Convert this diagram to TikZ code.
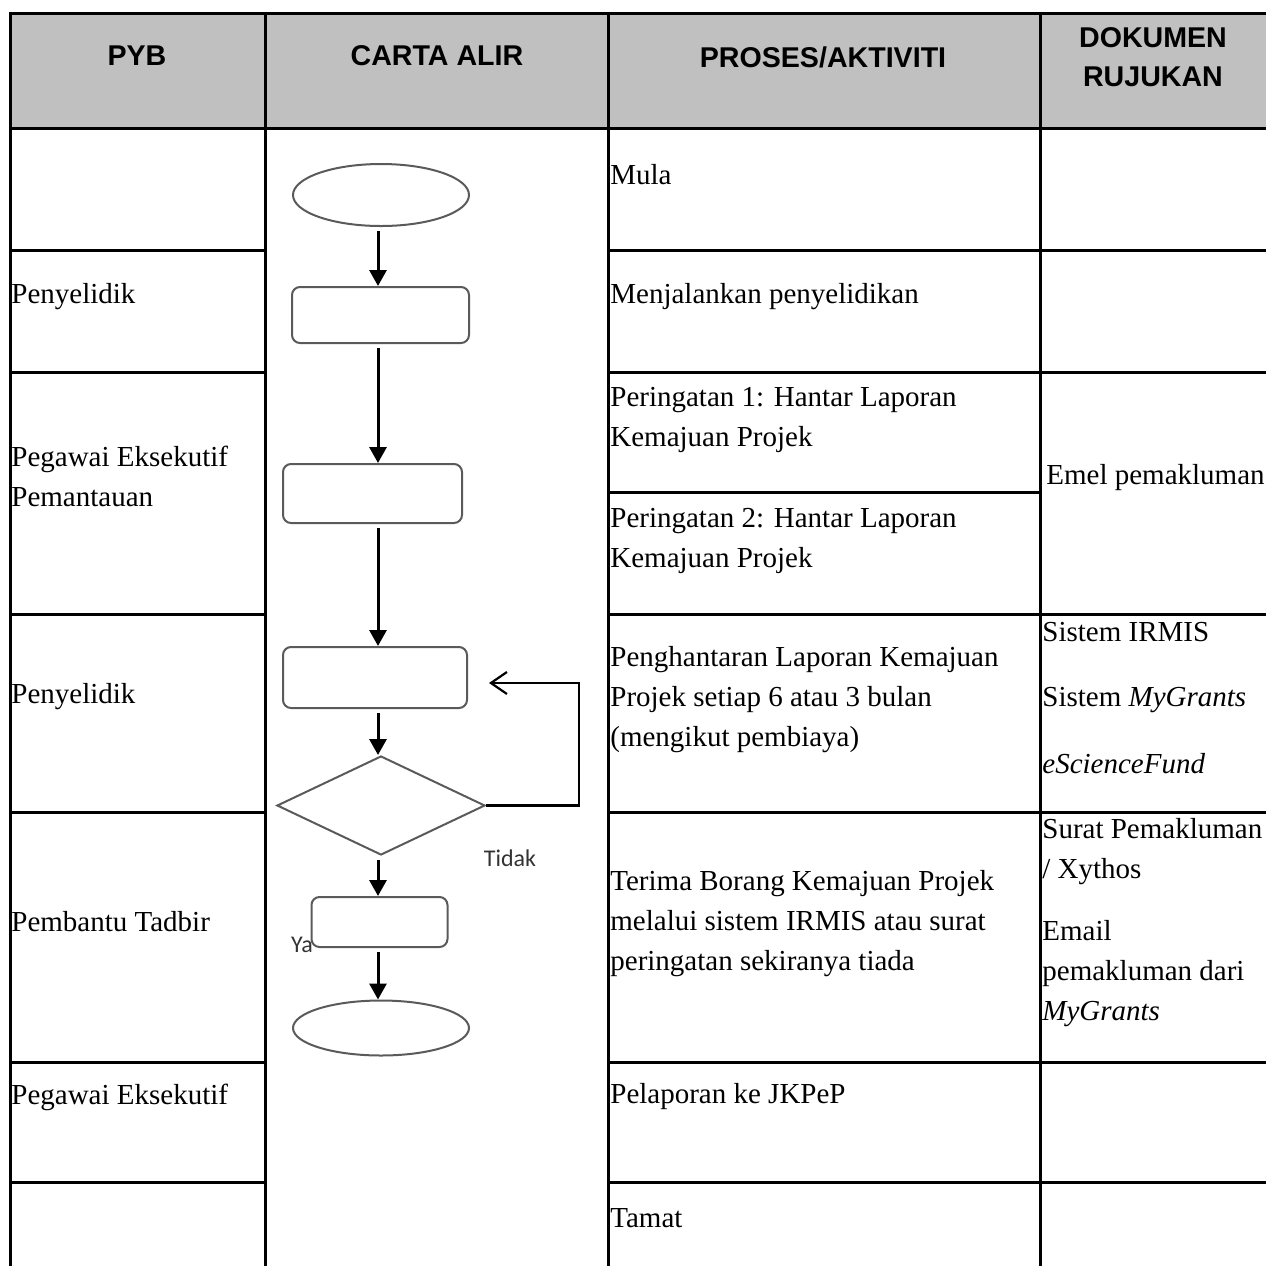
\documentclass[tikz,border=0pt]{standalone}
\usepackage{fontspec}
\setmainfont{Liberation Serif}
\setsansfont{Liberation Sans}
\newfontfamily\calibrifont{Carlito}
\usetikzlibrary{shapes.geometric,arrows.meta}
\definecolor{headgray}{HTML}{C0C0C0}
\definecolor{shapegray}{HTML}{5A5A5A}
\definecolor{labelgray}{HTML}{333333}

\begin{document}
\begin{tikzpicture}[x=0.5pt,y=-0.5pt,
    grid/.style={line width=1.5pt},
    cell/.style={anchor=west,align=left,inner sep=0pt,font=\fontsize{14.5}{20}\selectfont},
    head/.style={align=center,inner sep=0pt,font=\fontsize{14.3}{19.5}\selectfont\sffamily\bfseries},
    terminal/.style={ellipse,draw=shapegray,line width=1pt,inner sep=0pt},
    process/.style={rectangle,rounded corners=4pt,draw=shapegray,line width=1pt,inner sep=0pt},
    decision/.style={diamond,draw=shapegray,line width=1pt,inner sep=0pt},
    flow/.style={-{Triangle[width=8.5pt,length=8pt]},line width=1.5pt,shorten <=2pt},
    loopback/.style={-{Straight Barb[length=8pt,width=11pt]},line width=1.1pt},
    branch/.style={inner sep=0pt,text=labelgray,font=\fontsize{12}{14}\selectfont\calibrifont}]
  \useasboundingbox (0,0) rectangle (1266,1266);
  \clip (0,0) rectangle (1266,1266);

  % header
  \fill[headgray] (10,13) rectangle (1266,128);
  \draw[grid] (10,1266) -- (10,13) -- (1266,13);
  \draw[grid] (10,128) -- (1266,128);
  \draw[grid] (265,13) -- (265,1266);
  \draw[grid] (608,13) -- (608,1266);
  \draw[grid] (1040,13) -- (1040,1266);

  % rows, PYB column
  \draw[grid] (10,250) -- (265,250);
  \draw[grid] (10,372) -- (265,372);
  \draw[grid] (10,614) -- (265,614);
  \draw[grid] (10,812) -- (265,812);
  \draw[grid] (10,1062) -- (265,1062);
  \draw[grid] (10,1182) -- (265,1182);
  % rows, proses + dokumen
  \draw[grid] (608,250) -- (1266,250);
  \draw[grid] (608,372) -- (1266,372);
  \draw[grid] (608,492) -- (1040,492);
  \draw[grid] (608,614) -- (1266,614);
  \draw[grid] (608,812) -- (1266,812);
  \draw[grid] (608,1062) -- (1266,1062);
  \draw[grid] (608,1182) -- (1266,1182);

  \node[head] (pyb) at (137,56) {PYB};
  \node[head] (carta) at (437,56) {CARTA ALIR};
  \node[head] (proses) at (823,57) {PROSES/AKTIVITI};
  \node[head] (dokumen) at (1153,57) {DOKUMEN\\RUJUKAN};

  % PYB
  \node[cell] (pyb1) at (11,297) {Penyelidik};
  \node[cell] (pyb2) at (11,476) {Pegawai Eksekutif\\Pemantauan};
  \node[cell] (pyb3) at (11,697) {Penyelidik};
  \node[cell] (pyb4) at (11,922) {Pembantu Tadbir};
  \node[cell] (pyb5) at (11,1097) {Pegawai Eksekutif};

  % proses/aktiviti
  \node[cell] (mula) at (610,175) {Mula};
  \node[cell] (jalan) at (610,297) {Menjalankan penyelidikan};
  \node[cell] (ingat1) at (610,420) {Peringatan 1: Hantar Laporan\\Kemajuan Projek};
  \node[cell] (ingat2) at (610,541) {Peringatan 2: Hantar Laporan\\Kemajuan Projek};
  \node[cell] (hantar) at (610,700) {Penghantaran Laporan Kemajuan\\Projek setiap 6 atau 3 bulan\\(mengikut pembiaya)};
  \node[cell] (terima) at (610,924) {Terima Borang Kemajuan Projek\\melalui sistem IRMIS atau surat\\peringatan sekiranya tiada};
  \node[cell] (lapor) at (610,1097) {Pelaporan ke JKPeP};
  \node[cell] (tamat) at (610,1218) {Tamat};

  % dokumen rujukan
  \node[cell] (emel) at (1046,478) {Emel pemakluman};
  \node[cell] (irmis) at (1042,632) {Sistem IRMIS};
  \node[cell] (mygrants) at (1042,700) {Sistem \textit{MyGrants}};
  \node[cell] (esf) at (1042,764) {\textit{eScienceFund}};
  \node[cell] (surat) at (1042,852) {Surat Pemakluman\\/ Xythos};
  \node[cell] (email) at (1042,974) {Email\\pemakluman dari\\\textit{MyGrants}};

  % carta alir
  \coordinate (spine) at (378,0);
  \node[terminal,minimum width=88pt,minimum height=31pt] (start) at (381,195) {};
  \node[process,minimum width=88.5pt,minimum height=28pt] (run) at (380.5,315) {};
  \node[process,minimum width=89.5pt,minimum height=29.5pt] (warn) at (372.5,493.5) {};
  \node[process,minimum width=92pt,minimum height=30.5pt] (submit) at (375,677.5) {};
  \node[decision,minimum width=104pt,minimum height=49.5pt] (check) at (381,805.5) {};
  \node[process,minimum width=68pt,minimum height=25pt] (receive) at (379.5,922) {};
  \node[terminal,minimum width=88pt,minimum height=27.5pt] (stop) at (381,1028) {};

  \draw[flow] (start.south -| spine) -- (run.north -| spine);
  \draw[flow] (run.south -| spine) -- (warn.north -| spine);
  \draw[flow] (warn.south -| spine) -- (submit.north -| spine);
  \draw[flow] (submit.south -| spine) -- (check.north -| spine);
  \draw[flow] (check.south -| spine) -- (receive.north -| spine);
  \draw[flow] (receive.south -| spine) -- (stop.north -| spine);

  \coordinate (loopin) at (489,683);
  \draw[loopback] (check.east) -- ++(93,0) |- (loopin);

  \node[branch] (tidak) at (510,858) {Tidak};
  \node[branch] (ya) at (302,945) {Ya};
\end{tikzpicture}
\end{document}
